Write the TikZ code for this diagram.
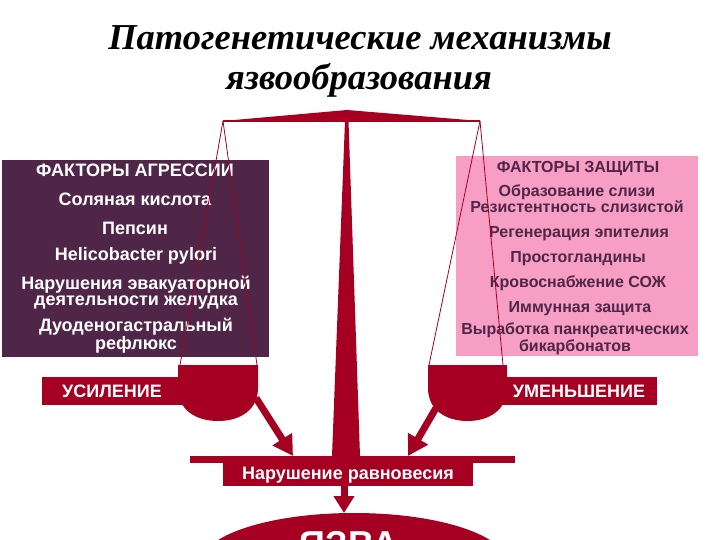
\documentclass[tikz,border=0pt]{standalone}
\usepackage{fontspec}
\setmainfont{Liberation Serif}
\newfontfamily\arialf{Liberation Sans}
\usetikzlibrary{arrows.meta,shapes.geometric}
\definecolor{scarlet}{RGB}{165,0,33}
\definecolor{plum}{RGB}{80,38,72}
\definecolor{rosebox}{RGB}{246,158,196}
\begin{document}
\begin{tikzpicture}[x=1pt,y=-1pt,
  lt/.style={font=\arialf\bfseries\fontsize{18}{16}\selectfont, text=white, anchor=base, inner sep=0pt, align=center},
  rt/.style={font=\arialf\bfseries\fontsize{16}{14}\selectfont, text=plum, anchor=base, inner sep=0pt, align=center},
  wt/.style={font=\arialf\bfseries\fontsize{18}{19}\selectfont, text=white, anchor=base, inner sep=0pt},
  ttl/.style={font=\bfseries\itshape\fontsize{36.5}{40}\selectfont, text=black, anchor=base, inner sep=0pt},
  boxnode/.style={inner sep=0pt, outer sep=0pt},
  string/.style={draw=scarlet, line width=0.8pt},
  bigarrow/.style={draw=scarlet, line width=7pt, -{Triangle[width=22pt,length=20pt]}},
  panfill/.style={fill=scarlet}]
\useasboundingbox (0,0) rectangle (720,540);
\clip (0,0) rectangle (720,540);

% title
\node[ttl] (t1) at (360,50) {Патогенетические механизмы};
\node[ttl] (t2) at (359,90) {язвообразования};

% boxes
\node[boxnode, fill=plum, minimum width=267pt, minimum height=197pt] (agr) at (135.5,258.5) {};
\node[boxnode, fill=rosebox, minimum width=242pt, minimum height=200pt] (zasch) at (577,256) {};

% left texts
\node[lt] (a0) at (135,177) {ФАКТОРЫ АГРЕССИИ};
\node[lt] (a1) at (135,206) {Соляная кислота};
\node[lt] (a2) at (135,234) {Пепсин};
\node[lt] (a3) at (136,260) {Helicobacter pylori};
\node[lt] (a4) at (136,305) {Нарушения эвакуаторной\\деятельности желудка};
\node[lt] (a6) at (136,349) {Дуоденогастральный\\рефлюкс};

% right texts
\node[rt] (z0) at (578,173) {ФАКТОРЫ ЗАЩИТЫ};
\node[rt] (z1) at (577,213) {Образование слизи\\Резистентность слизистой};
\node[rt] (z3) at (579,237) {Регенерация эпителия};
\node[rt] (z4) at (578,262) {Простогландины};
\node[rt] (z5) at (578,287) {Кровоснабжение СОЖ};
\node[rt] (z6) at (580,312) {Иммунная защита};
\node[rt] (z7) at (575,351) {Выработка панкреатических\\бикарбонатов};

% beam and post
\coordinate (bL) at (223,121);
\coordinate (bR) at (480,121);
\coordinate (bTop) at (347,110);
\fill[scarlet] (bL) -- (bTop) -- (bR) -- cycle;
\draw[scarlet, line width=1.5pt] (bL) -- (bR);
\fill[scarlet] (345,121) -- (348.5,121) -- (360,456) -- (332,456) -- cycle;

% strings
\coordinate (pL1) at (180,365);
\coordinate (pL2) at (257,365);
\coordinate (pR1) at (429,365);
\coordinate (pR2) at (503,365);
\draw[string] (bL) -- (pL1);
\draw[string] (bL) -- (pL2);
\draw[string] (bR) -- (pR1);
\draw[string] (bR) -- (pR2);

% label boxes
\node[boxnode, fill=scarlet, minimum width=178pt, minimum height=28pt] (usil) at (131,391) {};
\node[boxnode, fill=scarlet, minimum width=187pt, minimum height=28pt] (umen) at (563.5,391) {};
\node[wt] (usilt) at (112,397.5) {УСИЛЕНИЕ};
\node[wt] (ument) at (579,397.5) {УМЕНЬШЕНИЕ};

% pans
\fill[scarlet] (178,365) -- (258,365) -- (258,388) .. controls (258,410) and (240,421) .. (218,421) .. controls (196,421) and (178,410) .. (178,388) -- cycle;
\fill[scarlet] (428,365) -- (507,365) -- (507,388) .. controls (507,410) and (489,421) .. (467.5,421) .. controls (446,421) and (428,410) .. (428,388) -- cycle;

% bar and result box
\node[boxnode, fill=scarlet, minimum width=325pt, minimum height=7pt] (bar) at (352.5,459) {};
\node[boxnode, fill=scarlet, minimum width=250pt, minimum height=23pt] (nar) at (348,474) {};
\node[wt] (nart) at (348,479.5) {Нарушение равновесия};

% arrows
\coordinate (aLs) at (256,398);
\coordinate (aLe) at (293,456);
\coordinate (aRs) at (436,408);
\coordinate (aRe) at (408,456);
\draw[bigarrow] (aLs) -- (aLe);
\draw[bigarrow] (aRs) -- (aRe);
\coordinate (dS) at (344,485);
\coordinate (dE) at (344,513);
\draw[scarlet, line width=7pt, -{Triangle[width=20pt,length=17pt]}] (dS) -- (dE);

% ulcer
\node[ellipse, fill=scarlet, inner sep=0pt, minimum width=306pt, minimum height=100pt] (yazva) at (354,563) {};
\node[wt, font=\arialf\bfseries\fontsize{36}{40}\selectfont] (yazvat) at (349,556) {ЯЗВА};
\end{tikzpicture}
\end{document}
